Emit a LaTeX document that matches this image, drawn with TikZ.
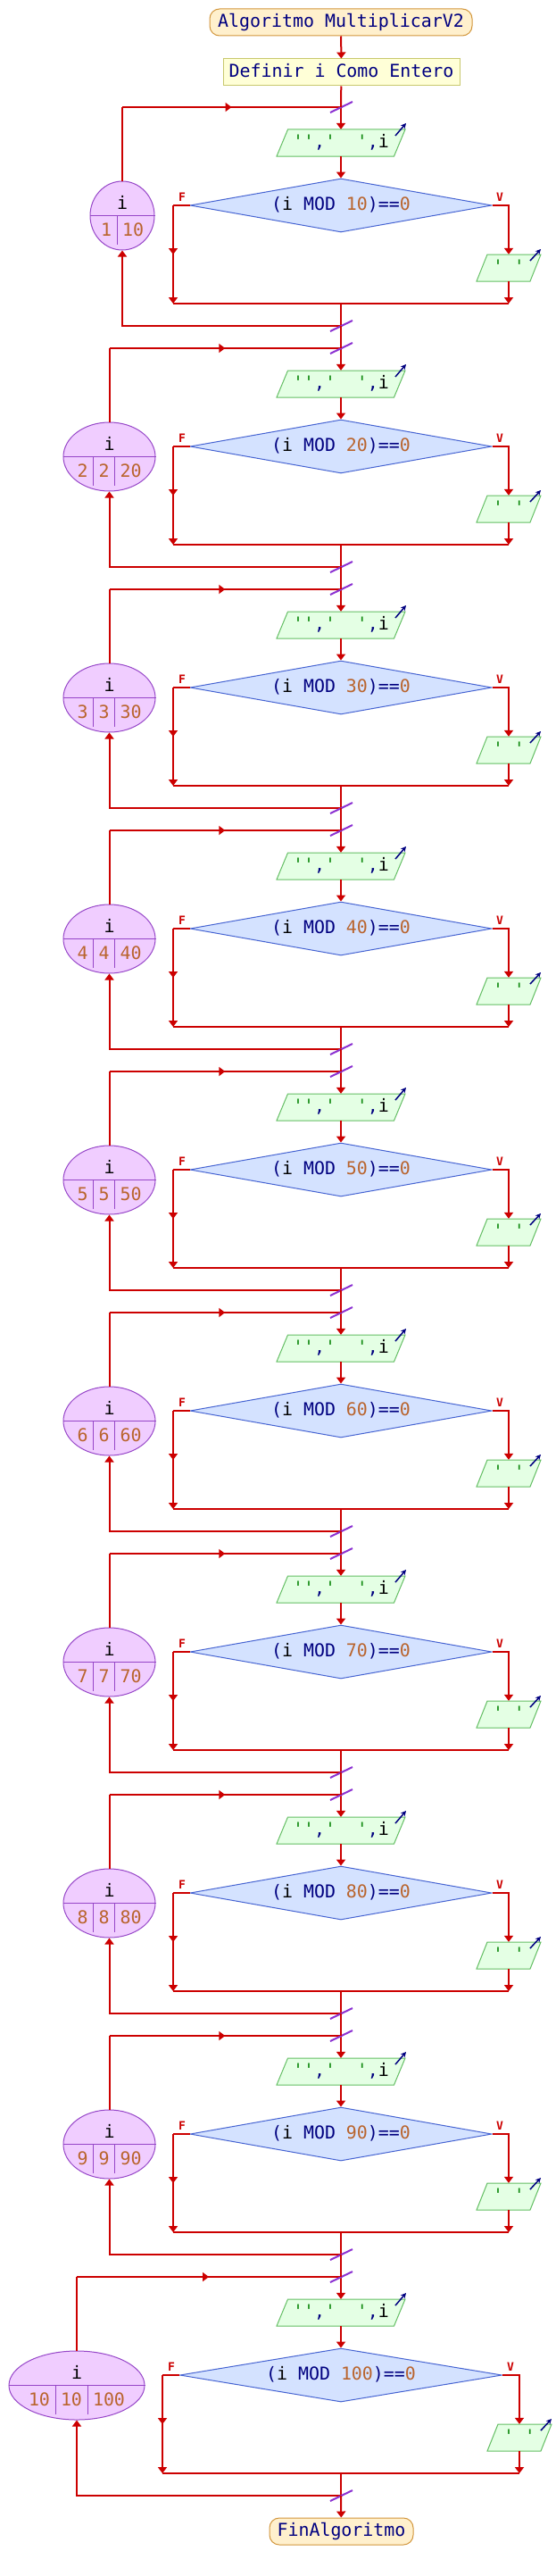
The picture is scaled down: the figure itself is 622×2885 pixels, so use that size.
\documentclass[tikz,border=0pt]{standalone}
\usepackage{fontspec}
\setmonofont{DejaVu Sans Mono}
\usetikzlibrary{shapes.geometric,arrows.meta,calc,decorations.markings}
\definecolor{lnred}{RGB}{204,0,0}
\definecolor{navyt}{RGB}{0,0,128}
\definecolor{numc}{RGB}{185,100,45}
\definecolor{strc}{RGB}{20,140,20}
\definecolor{termf}{RGB}{255,240,205}
\definecolor{termd}{RGB}{210,150,60}
\definecolor{deff}{RGB}{255,255,215}
\definecolor{defd}{RGB}{200,200,110}
\definecolor{outf}{RGB}{228,255,228}
\definecolor{outd}{RGB}{100,190,100}
\definecolor{diaf}{RGB}{212,226,255}
\definecolor{diad}{RGB}{70,100,210}
\definecolor{ellf}{RGB}{240,205,255}
\definecolor{elld}{RGB}{150,70,200}
\definecolor{slashc}{RGB}{140,50,210}
\tikzset{
 ln/.style={draw=lnred, line width=2pt},
 >={Triangle[width=10pt,length=7pt]},
 midarr/.style={postaction={decorate}, decoration={markings, mark=at position 0.5 with {\arrow{>}}}},
 txt/.style={font=\ttfamily\fontsize{19.9}{22}\selectfont, inner sep=0pt, text height=14pt, text depth=3.5pt},
 term/.style={txt, draw=termd, fill=termf, line width=1pt, rounded corners=11pt, minimum height=30pt, text=navyt},
 defbox/.style={txt, draw=defd, fill=deff, line width=1pt, minimum height=30pt, text=navyt},
 pgram/.style={draw=outd, fill=outf, line width=1pt},
 dia/.style={txt, diamond, shape aspect=5.6, draw=diad, fill=diaf, line width=1pt, minimum height=60pt, inner sep=0pt},
 ell/.style={ellipse, draw=elld, fill=ellf, line width=1pt, minimum height=77pt, inner sep=0pt},
 elldiv/.style={draw=elld, line width=1pt},
 slashm/.style={draw=slashc, line width=2pt},
 icon/.style={draw=navyt, line width=1.5pt, -{Stealth[length=6pt,width=6pt]}},
 lbl/.style={font=\ttfamily\bfseries\fontsize{13}{15}\selectfont, text=lnred, inner sep=0pt},
 numt/.style={txt, text=numc},
}
\newcommand\outtxt{\textcolor{strc}{''}\textcolor{navyt}{,}\textcolor{strc}{'\ \ '}\textcolor{navyt}{,}\textcolor{black}{i}}
\newcommand\diatxt[1]{\textcolor{navyt}{(}i\textcolor{navyt}{\ MOD\ }\textcolor{numc}{#1}\textcolor{navyt}{)==}\textcolor{numc}{0}}
% #1 k, #2 y0, #3 lx, #4 ellipse width, #5 Fx, #6 Vx, #7 diamond width, #8 mod number
\newcommand\mybody[8]{%
 \coordinate (top#1) at (382,#2);
 \draw[pgram,shift={(382,#2+40)}] (-59.5,-15) -- (72,-15) -- (59.5,15) -- (-72,15) -- cycle;
 \node[txt, minimum width=144pt, minimum height=30pt] (out#1) at (382,#2+40) {\outtxt};
 \node[dia, minimum width=#7pt] (d#1) at (382,#2+110) {\diatxt{#8}};
 \draw[pgram,shift={(#6,#2+180)}] (-24,-15) -- (36,-15) -- (24,15) -- (-36,15) -- cycle;
 \node[txt, minimum width=72pt, minimum height=30pt] (s#1) at (#6,#2+180) {\textcolor{strc}{'\ '}};
 \coordinate (fc#1) at (#5,#2+110);
 \coordinate (fb#1) at (#5,#2+220);
 \coordinate (vc#1) at (#6,#2+110);
 \coordinate (vb#1) at (#6,#2+220);
 \coordinate (m#1) at (382,#2+220);
 \coordinate (e#1) at (382,#2+245);
 \node[ell, minimum width=#4pt] (el#1) at (#3,#2+121.5) {};
 \coordinate (lt#1) at (#3,#2);
 \coordinate (lb#1) at (#3,#2+245);
 \draw[ln,->] (top#1) -- (out#1);
 \draw[ln,->] (out#1) -- (d#1);
 \draw[ln] (d#1.west) -- (fc#1);
 \draw[ln,midarr,->] (fc#1) -- (fb#1);
 \draw[ln,->] (d#1.east) -- (vc#1) -- (s#1.north);
 \draw[ln,->] (s#1) -- (vb#1);
 \draw[ln] (fb#1) -- (vb#1);
 \draw[ln] (m#1) -- (e#1);
 \draw[ln,->] (e#1) -- (lb#1) -- (el#1.south);
 \draw[ln] (el#1.north) -- (lt#1);
 \draw[ln,midarr] (lt#1) -- (top#1);
 \draw[elldiv] (el#1.west) -- (el#1.east);
 \node[txt] (ei#1) at (#3,#2+109) {i};
 \draw[slashm] ($(top#1)+(-12,6)$) -- ($(top#1)+(13,-6)$);
 \draw[slashm] ($(e#1)+(-12,6)$) -- ($(e#1)+(13,-6)$);
 \draw[icon] (382+61,#2+32) -- (382+73,#2+18);
 \draw[icon] (#6+24,#2+172) -- (#6+36,#2+159);
 \node[lbl] (F#1) at (#5+10,#2+101) {F};
 \node[lbl] (V#1) at (#6-10,#2+101) {V};
}
\begin{document}
\begin{tikzpicture}[x=1pt,y=-1pt]
\useasboundingbox (0,0) rectangle (622,2885);
\fill[white] (0,0) rectangle (622,2885);
\node[term, minimum width=294pt] (start) at (382,25) {Algoritmo MultiplicarV2};
\node[defbox, minimum width=265pt] (def) at (382.5,81) {Definir i Como Entero};
\draw[ln,->] (start) -- (def);
% loop 1
\mybody{1}{120}{137}{72}{194}{570}{338}{10}
\draw[elldiv] (131,241.5) -- (131,274);
\node[numt] (c1a) at (119,259.5) {1};
\node[numt] (c1b) at (149,259.5) {10};
% loops 2-9
\foreach \k in {2,...,9}{
 \pgfmathtruncatemacro\yy{120+270*(\k-1)}
 \pgfmathtruncatemacro\mm{10*\k}
 \mybody{\k}{\yy}{122.5}{103}{194}{570}{338}{\mm}
 \draw[elldiv] (104.5,\yy+121.5) -- (104.5,\yy+154);
 \draw[elldiv] (128.5,\yy+121.5) -- (128.5,\yy+154);
 \node[numt] (c\k a) at (92.5,\yy+139.5) {\k};
 \node[numt] (c\k b) at (116.5,\yy+139.5) {\k};
 \node[numt] (c\k c) at (146.5,\yy+139.5) {\mm};
}
% loop 10
\mybody{10}{2550}{86}{152}{182}{582}{361}{100}
\draw[elldiv] (62,2671.5) -- (62,2704);
\draw[elldiv] (98,2671.5) -- (98,2704);
\node[numt] (c10a) at (44,2689.5) {10};
\node[numt] (c10b) at (80,2689.5) {10};
\node[numt] (c10c) at (122,2689.5) {100};
\node[term, minimum width=161pt] (fin) at (382.5,2835) {FinAlgoritmo};
\draw[ln] (def) -- (top1);
\foreach \k in {1,...,9}{
 \pgfmathtruncatemacro\nk{\k+1}
 \draw[ln] (e\k) -- (top\nk);
}
\draw[ln,->] (e10) -- (fin);
\end{tikzpicture}
\end{document}
